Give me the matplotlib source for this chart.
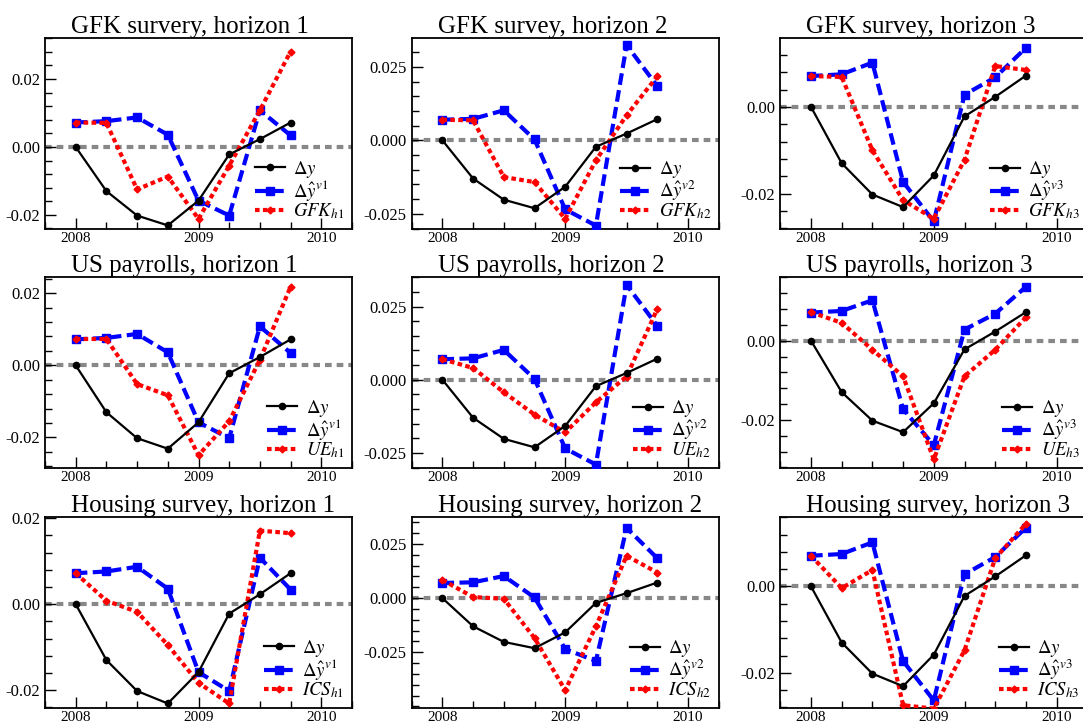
import matplotlib
matplotlib.use('Agg')
import matplotlib.pyplot as plt
from matplotlib.ticker import FixedLocator, MultipleLocator, AutoMinorLocator, FormatStrFormatter

plt.rcParams['font.family'] = ['Liberation Serif', 'DejaVu Serif']
plt.rcParams['mathtext.fontset'] = 'stix'
plt.rcParams['axes.unicode_minus'] = False

quarters = [2008.0, 2008.25, 2008.5, 2008.75, 2009.0, 2009.25, 2009.5, 2009.75]

dy = [0.0, -0.0130, -0.0202, -0.0231, -0.0158, -0.0022, 0.0023, 0.0072]
yhat_v1 = [0.0072, 0.0076, 0.0087, 0.0036, -0.0158, -0.0202, 0.0108, 0.0034]
yhat_v2 = [0.0070, 0.0073, 0.0102, 0.0003, -0.0235, -0.0290, 0.0324, 0.0184]
yhat_v3 = [0.0071, 0.0075, 0.0102, -0.0173, -0.0264, 0.0028, 0.0068, 0.0136]

gfk_h1 = [0.0072, 0.0071, -0.0125, -0.0087, -0.0212, -0.0055, 0.0108, 0.0281]
gfk_h2 = [0.0070, 0.0068, -0.0125, -0.0142, -0.0267, -0.0068, 0.0085, 0.0218]
gfk_h3 = [0.0071, 0.0069, -0.0100, -0.0215, -0.0258, -0.0122, 0.0094, 0.0085]
ue_h1 = [0.0073, 0.0073, -0.0052, -0.0083, -0.0249, -0.0155, 0.0015, 0.0218]
ue_h2 = [0.0070, 0.0040, -0.0043, -0.0119, -0.0180, -0.0077, 0.0011, 0.0242]
ue_h3 = [0.0072, 0.0045, -0.0023, -0.0090, -0.0300, -0.0090, -0.0023, 0.0059]
ics_h1 = [0.0072, 0.0008, -0.0018, -0.0095, -0.0183, -0.0231, 0.0171, 0.0165]
ics_h2 = [0.0084, 0.0005, -0.0003, -0.0184, -0.0425, -0.0130, 0.0195, 0.0118]
ics_h3 = [0.0071, -0.0004, 0.0038, -0.0275, -0.0283, -0.0148, 0.0065, 0.0145]

titles = [
    ['GFK survery, horizon 1', 'GFK survey, horizon 2', 'GFK survey, horizon 3'],
    ['US payrolls, horizon 1', 'US payrolls, horizon 2', 'US payrolls, horizon 3'],
    ['Housing survey, horizon 1', 'Housing survey, horizon 2', 'Housing survey, horizon 3'],
]
indicator_names = ['GFK', 'UE', 'ICS']
indicators = [[gfk_h1, gfk_h2, gfk_h3], [ue_h1, ue_h2, ue_h3], [ics_h1, ics_h2, ics_h3]]
forecasts = [yhat_v1, yhat_v2, yhat_v3]

ylims = [
    [(-0.0241, 0.032), (-0.0301, 0.0347), (-0.0281, 0.0158)],
    [(-0.0284, 0.0244), (-0.0301, 0.035), (-0.0321, 0.016)],
    [(-0.0241, 0.0202), (-0.0506, 0.0373), (-0.0281, 0.016)],
]
yticks_h = [[-0.02, 0.0, 0.02], [-0.025, 0.0, 0.025], [-0.02, 0.0]]
yfmt_h = ['%.2f', '%.3f', '%.2f']
year_ticks = [2008, 2009, 2010]

fig = plt.figure(figsize=(10.83, 7.24), dpi=100)
W, H = 1083.0, 724.0
col_left = [45, 411.7, 780.3]
row_top = [38.3, 277.3, 517.3]
ax_w, ax_h = 307, 190.5

for r in range(3):
    for c in range(3):
        ax = fig.add_axes([col_left[c] / W, 1 - (row_top[r] + ax_h) / H, ax_w / W, ax_h / H])
        ax.axhline(0, color='#888888', lw=3, dashes=(1.6, 1.2), zorder=1)
        ax.plot(quarters, dy, color='black', lw=1.6, marker='o', ms=4.5,
                label=r'$\Delta y$', zorder=4)
        ax.plot(quarters, forecasts[c], color='#0000ff', lw=3, dashes=(2.8, 1.3),
                marker='s', ms=5.5, label=r'$\Delta \hat{y}^{v%d}$' % (c + 1), zorder=3)
        ax.plot(quarters, indicators[r][c], color='#ff0000', lw=3, dashes=(1.1, 0.8),
                marker='D', ms=3.5, label=r'$%s_{h%d}$' % (indicator_names[r], c + 1), zorder=3)
        ax.set_xlim(2007.75, 2010.25)
        ax.set_ylim(*ylims[r][c])
        ax.xaxis.set_major_locator(FixedLocator(year_ticks))
        ax.xaxis.set_minor_locator(MultipleLocator(0.25))
        ax.xaxis.set_major_formatter(FormatStrFormatter('%d'))
        ax.yaxis.set_major_locator(FixedLocator(yticks_h[c]))
        ax.yaxis.set_minor_locator(AutoMinorLocator(5))
        ax.yaxis.set_major_formatter(FormatStrFormatter(yfmt_h[c]))
        ax.tick_params(which='both', direction='in', top=False, right=False)
        ax.tick_params(axis='y', labelsize=12)
        ax.tick_params(axis='x', labelsize=11, pad=2.5)
        ax.tick_params(which='major', length=8, width=1)
        ax.tick_params(which='minor', length=5, width=1)
        for s in ax.spines.values():
            s.set_linewidth(1.3)
        ax.text(0.085, 1.028, titles[r][c], transform=ax.transAxes, ha='left',
                va='baseline', fontsize=18)
        ax.legend(loc='lower right', frameon=False, fontsize=13.5, handlelength=1.6,
                  handletextpad=0.45, labelspacing=-0.08, borderaxespad=0.2, borderpad=0.2)

fig.savefig('out.png', dpi=100)
